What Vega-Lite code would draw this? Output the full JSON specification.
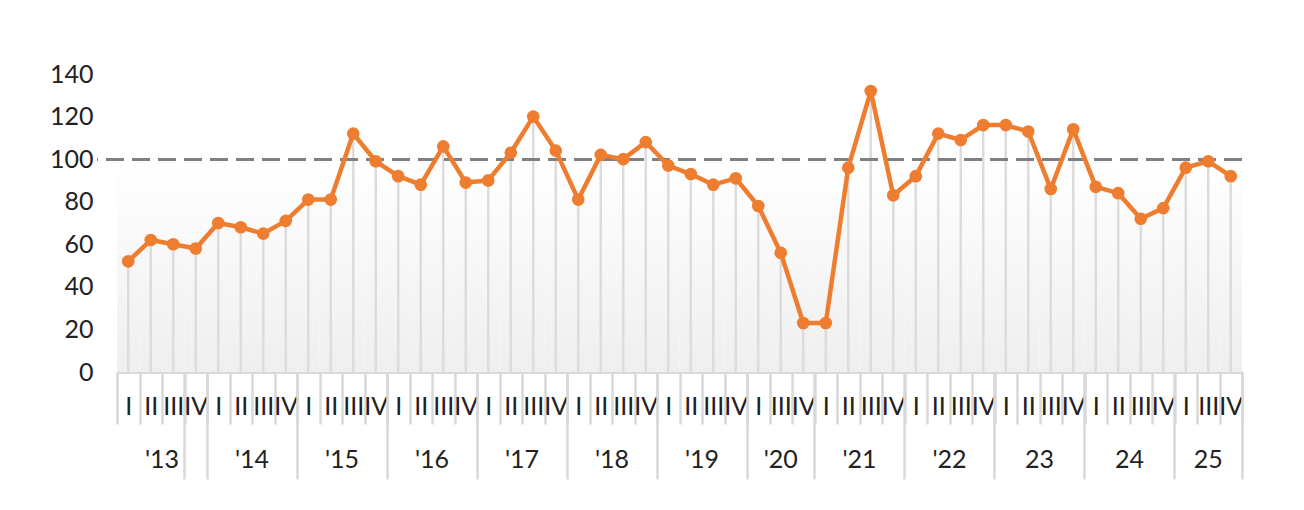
{
  "$schema": "https://vega.github.io/schema/vega-lite/v6.json",
  "width": 1145,
  "height": 298,
  "autosize": {"type": "none"},
  "padding": {"left": 97, "top": 74, "right": 62, "bottom": 138},
  "background": "white",
  "config": {
    "view": {"stroke": null},
    "font": "Lato",
    "axis": {"labelFont": "Lato", "labelColor": "#222222", "labelFontSize": 25, "grid": false}
  },
  "data": {
    "values": [
      {"k": "'13 I", "v": 52}, {"k": "'13 II", "v": 62}, {"k": "'13 III", "v": 60}, {"k": "'13 IV", "v": 58},
      {"k": "'14 I", "v": 70}, {"k": "'14 II", "v": 68}, {"k": "'14 III", "v": 65}, {"k": "'14 IV", "v": 71},
      {"k": "'15 I", "v": 81}, {"k": "'15 II", "v": 81}, {"k": "'15 III", "v": 112}, {"k": "'15 IV", "v": 99},
      {"k": "'16 I", "v": 92}, {"k": "'16 II", "v": 88}, {"k": "'16 III", "v": 106}, {"k": "'16 IV", "v": 89},
      {"k": "'17 I", "v": 90}, {"k": "'17 II", "v": 103}, {"k": "'17 III", "v": 120}, {"k": "'17 IV", "v": 104},
      {"k": "'18 I", "v": 81}, {"k": "'18 II", "v": 102}, {"k": "'18 III", "v": 100}, {"k": "'18 IV", "v": 108},
      {"k": "'19 I", "v": 97}, {"k": "'19 II", "v": 93}, {"k": "'19 III", "v": 88}, {"k": "'19 IV", "v": 91},
      {"k": "'20 I", "v": 78}, {"k": "'20 III", "v": 56}, {"k": "'20 IV", "v": 23},
      {"k": "'21 I", "v": 23}, {"k": "'21 II", "v": 96}, {"k": "'21 III", "v": 132}, {"k": "'21 IV", "v": 83},
      {"k": "'22 I", "v": 92}, {"k": "'22 II", "v": 112}, {"k": "'22 III", "v": 109}, {"k": "'22 IV", "v": 116},
      {"k": "23 I", "v": 116}, {"k": "23 II", "v": 113}, {"k": "23 III", "v": 86}, {"k": "23 IV", "v": 114},
      {"k": "24 I", "v": 87}, {"k": "24 II", "v": 84}, {"k": "24 III", "v": 72}, {"k": "24 IV", "v": 77},
      {"k": "25 I", "v": 96}, {"k": "25 III", "v": 99}, {"k": "25 IV", "v": 92}
    ]
  },
  "resolve": {"axis": {"x": "independent"}},
  "layer": [
    {
      "mark": {
        "type": "bar",
        "fill": {
          "gradient": "linear", "x1": 0, "y1": 0, "x2": 0, "y2": 1,
          "stops": [{"offset": 0, "color": "#ffffff"}, {"offset": 1, "color": "#efefef"}]
        },
        "strokeWidth": 0
      },
      "encoding": {
        "x": {
          "field": "k", "type": "ordinal", "sort": null,
          "scale": {"type": "band", "range": [20, 1145], "paddingInner": 0, "paddingOuter": 0},
          "axis": {
            "orient": "bottom", "title": null, "tickBand": "extent", "tickSize": 52,
            "tickColor": "#d9d9d9", "tickWidth": 2.5, "domainColor": "#d9d9d9", "domainWidth": 3,
            "labelExpr": "split(datum.label, ' ')[1]", "labelAngle": 0, "labelOverlap": false,
            "labelBaseline": "middle", "labelPadding": -18
          }
        },
        "y": {"datum": 100, "type": "quantitative", "scale": {"domain": [0, 140], "nice": false},
              "axis": {"title": null, "values": [0, 20, 40, 60, 80, 100, 120, 140], "domain": false, "ticks": false, "labelPadding": 4}},
        "y2": {"datum": 0}
      }
    },
    {
      "mark": {"type": "rule", "color": "#dcdcdc", "strokeWidth": 2.5},
      "encoding": {
        "x": {
          "field": "k", "type": "ordinal", "sort": null,
          "axis": {
            "orient": "bottom", "title": null,
            "values": ["'13 IV", "'14 IV", "'15 IV", "'16 IV", "'17 IV", "'18 IV", "'19 IV", "'20 IV", "'21 IV", "'22 IV", "23 IV", "24 IV", "25 IV"],
            "bandPosition": 1, "tickExtra": true, "tickSize": 107, "tickColor": "#d9d9d9", "tickWidth": 2.5,
            "domain": false, "labelAngle": 0, "labelOverlap": false,
            "labelExpr": "split(datum.label, ' ')[0]",
            "labelOffset": {"condition": {"test": "datum.value == \"'20 IV\" || datum.value == '25 IV'", "value": -22.5}, "value": -33.75},
            "labelBaseline": "middle", "labelPadding": -20
          }
        },
        "y": {"field": "v", "type": "quantitative", "title": null},
        "y2": {"datum": 0}
      }
    },
    {
      "mark": {"type": "rule", "color": "#808080", "strokeWidth": 2, "strokeDash": [18, 8]},
      "encoding": {"y": {"datum": 100, "type": "quantitative"}}
    },
    {
      "mark": {"type": "line", "color": "#EE7D2F", "strokeWidth": 4.5, "strokeJoin": "round"},
      "encoding": {
        "x": {"field": "k", "type": "ordinal", "sort": null, "axis": null},
        "y": {"field": "v", "type": "quantitative", "title": null}
      }
    },
    {
      "mark": {"type": "circle", "color": "#EE7D2F", "size": 160, "opacity": 1},
      "encoding": {
        "x": {"field": "k", "type": "ordinal", "sort": null, "axis": null},
        "y": {"field": "v", "type": "quantitative", "title": null}
      }
    }
  ]
}
